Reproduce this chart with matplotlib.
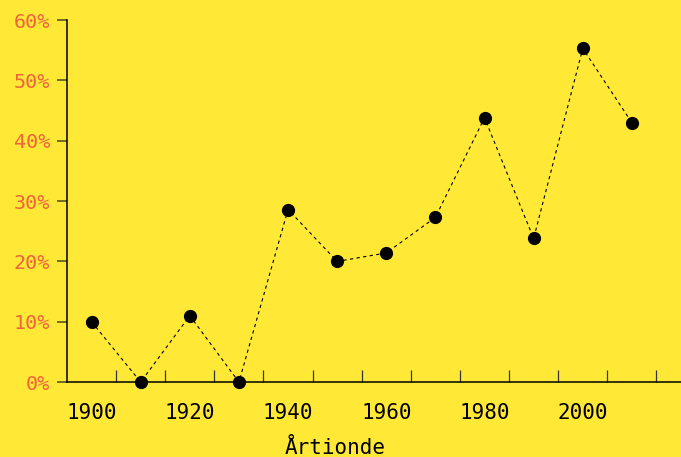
import matplotlib
matplotlib.use("Agg")
from matplotlib import pyplot as plt
from matplotlib.ticker import FixedLocator, FuncFormatter

# decade -> share in percent
decades = [1900, 1910, 1920, 1930, 1940, 1950, 1960, 1970, 1980, 1990, 2000, 2010]
share = [10.0, 0.0, 11.0, 0.0, 28.6, 20.0, 21.4, 27.3, 43.8, 23.8, 55.3, 43.0]

x_labels = [1900, 1920, 1940, 1960, 1980, 2000]
x_minor = [1905, 1915, 1925, 1935, 1945, 1955, 1965, 1975, 1985, 1995, 2005, 2015]
y_ticks = [0, 10, 20, 30, 40, 50, 60]

bg = '#FFE936'
orange = '#F0643C'
font = 'DejaVu Sans Mono'


def main():
    fig = plt.figure(figsize=(6.81, 4.57), dpi=100, facecolor=bg)
    ax = fig.add_axes([0.0984, 0.164, 0.9016, 0.792])
    ax.set_facecolor(bg)

    ax.plot(decades, share, color='black', lw=0.8, ls=(0, (3, 3)),
            marker='o', ms=8.5, mfc='black', mec='black', zorder=3,
            clip_on=False)

    ax.set_xlim(1895, 2020)
    ax.set_ylim(0, 60)

    for s in ['top', 'right']:
        ax.spines[s].set_visible(False)
    for s in ['left', 'bottom']:
        ax.spines[s].set_linewidth(1.1)
        ax.spines[s].set_color('black')

    ax.xaxis.set_major_locator(FixedLocator(x_labels))
    ax.xaxis.set_minor_locator(FixedLocator(x_minor))
    ax.tick_params(axis='x', which='major', length=0, pad=15,
                   labelsize=15, labelcolor='black')
    ax.tick_params(axis='x', which='minor', direction='in', length=9,
                   width=0.9, color='#333333')

    ax.set_yticks(y_ticks)
    ax.yaxis.set_major_formatter(FuncFormatter(lambda v, p: f'{int(v)}%'))
    ax.tick_params(axis='y', length=7, width=1.1, color='#4a4a20', pad=5,
                   labelsize=14.5, labelcolor=orange)

    for lab in ax.get_xticklabels() + ax.get_yticklabels():
        lab.set_fontfamily(font)

    ax.set_xlabel('Årtionde', fontsize=15, fontfamily=font)
    ax.xaxis.set_label_coords(0.436, -0.155)

    fig.savefig('out.png', dpi=100, facecolor=bg)


if __name__ == "__main__":
    main()
